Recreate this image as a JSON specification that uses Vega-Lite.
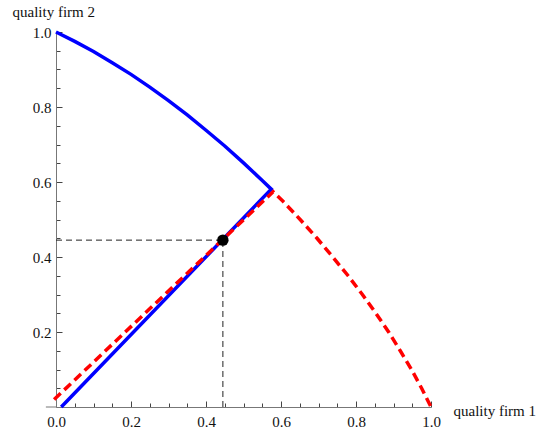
{
  "$schema": "https://vega.github.io/schema/vega-lite/v6.json",
  "width": 375,
  "height": 375,
  "autosize": "none",
  "padding": {"left": 56, "top": 32, "right": 108, "bottom": 30},
  "background": "white",
  "config": {"view": {"stroke": null}, "font": "Liberation Serif"},
  "datasets": {
    "curves": [
      {"series": "blue", "order": 0, "x": 0.0, "y": 1.0},
      {"series": "blue", "order": 1, "x": 0.05, "y": 0.975},
      {"series": "blue", "order": 2, "x": 0.1, "y": 0.948},
      {"series": "blue", "order": 3, "x": 0.15, "y": 0.918},
      {"series": "blue", "order": 4, "x": 0.2, "y": 0.887},
      {"series": "blue", "order": 5, "x": 0.25, "y": 0.853},
      {"series": "blue", "order": 6, "x": 0.3, "y": 0.817},
      {"series": "blue", "order": 7, "x": 0.35, "y": 0.779},
      {"series": "blue", "order": 8, "x": 0.4, "y": 0.738},
      {"series": "blue", "order": 9, "x": 0.45, "y": 0.696},
      {"series": "blue", "order": 10, "x": 0.5, "y": 0.651},
      {"series": "blue", "order": 11, "x": 0.55, "y": 0.604},
      {"series": "blue", "order": 12, "x": 0.574, "y": 0.581},
      {"series": "blue", "order": 13, "x": 0.014, "y": 0.0},
      {"series": "red", "order": 0, "x": -0.005, "y": 0.02},
      {"series": "red", "order": 1, "x": 0.579, "y": 0.574},
      {"series": "red", "order": 2, "x": 0.604, "y": 0.55},
      {"series": "red", "order": 3, "x": 0.651, "y": 0.5},
      {"series": "red", "order": 4, "x": 0.696, "y": 0.45},
      {"series": "red", "order": 5, "x": 0.738, "y": 0.4},
      {"series": "red", "order": 6, "x": 0.779, "y": 0.35},
      {"series": "red", "order": 7, "x": 0.817, "y": 0.3},
      {"series": "red", "order": 8, "x": 0.853, "y": 0.25},
      {"series": "red", "order": 9, "x": 0.887, "y": 0.2},
      {"series": "red", "order": 10, "x": 0.918, "y": 0.15},
      {"series": "red", "order": 11, "x": 0.948, "y": 0.1},
      {"series": "red", "order": 12, "x": 0.975, "y": 0.05},
      {"series": "red", "order": 13, "x": 1.0, "y": 0.0}
    ],
    "guides": [
      {"seg": "h", "order": 0, "x": 0.0, "y": 0.445},
      {"seg": "h", "order": 1, "x": 0.445, "y": 0.445},
      {"seg": "v", "order": 0, "x": 0.445, "y": 0.0},
      {"seg": "v", "order": 1, "x": 0.445, "y": 0.445}
    ],
    "eq": [{"x": 0.445, "y": 0.445}],
    "axisext": [{"x": -0.027, "x2": 0.0, "y": 0.0}]
  },
  "resolve": {"axis": {"x": "independent", "y": "independent"}},
  "layer": [
    {
      "data": {"name": "axisext"},
      "mark": {"type": "rule", "color": "#777777", "strokeWidth": 1},
      "encoding": {
        "x": {
          "field": "x", "type": "quantitative",
          "scale": {"domain": [0, 1], "nice": false, "zero": false},
          "axis": {
            "orient": "bottom",
            "values": [0.05, 0.1, 0.15, 0.25, 0.3, 0.35, 0.45, 0.5, 0.55, 0.65, 0.7, 0.75, 0.85, 0.9, 0.95],
            "labels": false,
            "domain": false,
            "grid": false,
            "tickSize": -4,
            "tickColor": "#444444",
            "title": null
          }
        },
        "x2": {"field": "x2"},
        "y": {
          "field": "y", "type": "quantitative",
          "scale": {"domain": [0, 1], "nice": false, "zero": false},
          "axis": {
            "orient": "left",
            "values": [0.05, 0.1, 0.15, 0.25, 0.3, 0.35, 0.45, 0.5, 0.55, 0.65, 0.7, 0.75, 0.85, 0.9, 0.95],
            "labels": false,
            "domain": false,
            "grid": false,
            "tickSize": -4,
            "tickColor": "#444444",
            "title": null
          }
        }
      }
    },
    {
      "data": {"name": "guides"},
      "mark": {"type": "line", "color": "#222222", "strokeWidth": 1, "strokeDash": [6, 4]},
      "encoding": {
        "x": {
          "field": "x", "type": "quantitative",
          "scale": {"domain": [0, 1], "nice": false, "zero": false},
          "axis": {
            "orient": "bottom",
            "values": [0, 0.2, 0.4, 0.6, 0.8, 1.0],
            "format": ".1f",
            "tickSize": -6,
            "labelPadding": 13,
            "grid": false,
            "domainColor": "#777777",
            "tickColor": "#444444",
            "labelColor": "#111111",
            "labelFont": "Liberation Serif",
            "labelFontSize": 15,
            "labelFlush": false,
            "labelOverlap": false,
            "title": "quality firm 1",
            "titleFont": "Liberation Serif",
            "titleFontSize": 15,
            "titleFontWeight": "normal",
            "titleColor": "#111111",
            "titleAlign": "left",
            "titleBaseline": "alphabetic",
            "titleAnchor": "start",
            "titleX": 397,
            "titleY": 8
          }
        },
        "y": {
          "field": "y", "type": "quantitative",
          "scale": {"domain": [0, 1], "nice": false, "zero": false},
          "axis": {
            "orient": "left",
            "values": [0.2, 0.4, 0.6, 0.8, 1.0],
            "format": ".1f",
            "tickSize": -6,
            "labelPadding": 11,
            "grid": false,
            "domainColor": "#777777",
            "tickColor": "#444444",
            "labelColor": "#111111",
            "labelFont": "Liberation Serif",
            "labelFontSize": 15,
            "labelFlush": false,
            "labelOverlap": false,
            "title": "quality firm 2",
            "titleFont": "Liberation Serif",
            "titleFontSize": 15,
            "titleFontWeight": "normal",
            "titleColor": "#111111",
            "titleAngle": 0,
            "titleAlign": "left",
            "titleBaseline": "alphabetic",
            "titleAnchor": "start",
            "titleX": -44,
            "titleY": -16
          }
        },
        "detail": {"field": "seg"},
        "order": {"field": "order"}
      }
    },
    {
      "data": {"name": "curves"},
      "transform": [{"filter": "datum.series == 'blue'"}],
      "mark": {"type": "line", "color": "#0000ff", "strokeWidth": 3.5, "strokeJoin": "miter"},
      "encoding": {
        "x": {"field": "x", "type": "quantitative", "axis": null},
        "y": {"field": "y", "type": "quantitative", "axis": null},
        "order": {"field": "order"}
      }
    },
    {
      "data": {"name": "curves"},
      "transform": [{"filter": "datum.series == 'red'"}],
      "mark": {"type": "line", "color": "#ff0000", "strokeWidth": 3.5, "strokeDash": [9, 5]},
      "encoding": {
        "x": {"field": "x", "type": "quantitative", "axis": null},
        "y": {"field": "y", "type": "quantitative", "axis": null},
        "order": {"field": "order"}
      }
    },
    {
      "data": {"name": "eq"},
      "mark": {"type": "point", "filled": true, "color": "#000000", "opacity": 1, "size": 130},
      "encoding": {
        "x": {"field": "x", "type": "quantitative", "axis": null},
        "y": {"field": "y", "type": "quantitative", "axis": null}
      }
    }
  ]
}
